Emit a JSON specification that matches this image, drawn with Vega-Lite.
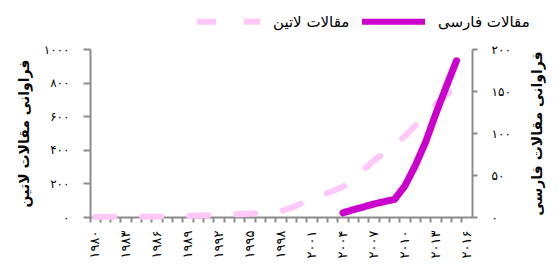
{
  "$schema": "https://vega.github.io/schema/vega-lite/v6.json",
  "width": 382,
  "height": 168,
  "autosize": {"type": "none"},
  "padding": {"left": 90, "top": 49, "right": 86, "bottom": 51},
  "data": {
    "values": [
      {"year": 1980, "series": "مقالات لاتین", "value": 0},
      {"year": 1981, "series": "مقالات لاتین", "value": 1},
      {"year": 1982, "series": "مقالات لاتین", "value": 1},
      {"year": 1983, "series": "مقالات لاتین", "value": 1},
      {"year": 1984, "series": "مقالات لاتین", "value": 2},
      {"year": 1985, "series": "مقالات لاتین", "value": 2},
      {"year": 1986, "series": "مقالات لاتین", "value": 3},
      {"year": 1987, "series": "مقالات لاتین", "value": 4},
      {"year": 1988, "series": "مقالات لاتین", "value": 5},
      {"year": 1989, "series": "مقالات لاتین", "value": 7},
      {"year": 1990, "series": "مقالات لاتین", "value": 9},
      {"year": 1991, "series": "مقالات لاتین", "value": 11},
      {"year": 1992, "series": "مقالات لاتین", "value": 13},
      {"year": 1993, "series": "مقالات لاتین", "value": 15},
      {"year": 1994, "series": "مقالات لاتین", "value": 17},
      {"year": 1995, "series": "مقالات لاتین", "value": 20},
      {"year": 1996, "series": "مقالات لاتین", "value": 24},
      {"year": 1997, "series": "مقالات لاتین", "value": 29},
      {"year": 1998, "series": "مقالات لاتین", "value": 36},
      {"year": 1999, "series": "مقالات لاتین", "value": 55},
      {"year": 2000, "series": "مقالات لاتین", "value": 82},
      {"year": 2001, "series": "مقالات لاتین", "value": 105},
      {"year": 2002, "series": "مقالات لاتین", "value": 131},
      {"year": 2003, "series": "مقالات لاتین", "value": 155},
      {"year": 2004, "series": "مقالات لاتین", "value": 180},
      {"year": 2005, "series": "مقالات لاتین", "value": 229},
      {"year": 2006, "series": "مقالات لاتین", "value": 280},
      {"year": 2007, "series": "مقالات لاتین", "value": 336},
      {"year": 2008, "series": "مقالات لاتین", "value": 380},
      {"year": 2009, "series": "مقالات لاتین", "value": 429},
      {"year": 2010, "series": "مقالات لاتین", "value": 482},
      {"year": 2011, "series": "مقالات لاتین", "value": 542},
      {"year": 2012, "series": "مقالات لاتین", "value": 607},
      {"year": 2013, "series": "مقالات لاتین", "value": 672},
      {"year": 2014, "series": "مقالات لاتین", "value": 726},
      {"year": 2015, "series": "مقالات لاتین", "value": 768},
      {"year": 2004, "series": "مقالات فارسی", "value": 5},
      {"year": 2005, "series": "مقالات فارسی", "value": 8.7},
      {"year": 2006, "series": "مقالات فارسی", "value": 12},
      {"year": 2007, "series": "مقالات فارسی", "value": 15.5},
      {"year": 2008, "series": "مقالات فارسی", "value": 18.3},
      {"year": 2009, "series": "مقالات فارسی", "value": 21},
      {"year": 2010, "series": "مقالات فارسی", "value": 37},
      {"year": 2011, "series": "مقالات فارسی", "value": 61},
      {"year": 2012, "series": "مقالات فارسی", "value": 89},
      {"year": 2013, "series": "مقالات فارسی", "value": 123},
      {"year": 2014, "series": "مقالات فارسی", "value": 155},
      {"year": 2015, "series": "مقالات فارسی", "value": 186}
    ]
  },
  "encoding": {
    "x": {
      "field": "year",
      "type": "ordinal",
      "scale": {
        "type": "band",
        "paddingInner": 0,
        "paddingOuter": 0,
        "domain": [1980,1981,1982,1983,1984,1985,1986,1987,1988,1989,1990,1991,1992,1993,1994,1995,1996,1997,1998,1999,2000,2001,2002,2003,2004,2005,2006,2007,2008,2009,2010,2011,2012,2013,2014,2015,2016]
      },
      "axis": {
        "title": null,
        "bandPosition": 0,
        "labelAngle": -90,
        "labelAlign": "right",
        "labelBaseline": "middle",
        "labelPadding": 8,
        "labelFontSize": 13,
        "tickSize": 5,
        "labelExpr": "(datum.value - 1980) % 3 == 0 ? replace(replace(replace(replace(replace(replace(replace(replace(replace(replace(datum.label, regexp('0','g'), '۰'), regexp('1','g'), '۱'), regexp('2','g'), '۲'), regexp('3','g'), '۳'), regexp('4','g'), '۴'), regexp('5','g'), '۵'), regexp('6','g'), '۶'), regexp('7','g'), '۷'), regexp('8','g'), '۸'), regexp('9','g'), '۹') : ''"
      }
    },
    "color": {
      "field": "series",
      "type": "nominal",
      "scale": {"domain": ["مقالات لاتین", "مقالات فارسی"], "range": ["#FFC8F8", "#CC00CC"]},
      "legend": {
        "title": null,
        "orient": "none",
        "direction": "horizontal",
        "legendX": 104,
        "legendY": -62,
        "symbolType": "stroke",
        "symbolSize": 3969,
        "symbolStrokeWidth": 6,
        "labelFontSize": 15,
        "labelOffset": 10,
        "columnPadding": 0,
        "labelLimit": 200
      }
    },
    "strokeDash": {
      "field": "series",
      "type": "nominal",
      "scale": {"domain": ["مقالات لاتین", "مقالات فارسی"], "range": [[19, 28], [1, 0]]},
      "legend": null
    }
  },
  "layer": [
    {
      "transform": [{"filter": "datum.series == 'مقالات لاتین'"}],
      "mark": {"type": "line", "strokeWidth": 6, "strokeCap": "round", "strokeJoin": "round"},
      "encoding": {
        "y": {
          "field": "value",
          "type": "quantitative",
          "scale": {"domain": [0, 1000]},
          "axis": {
            "orient": "left",
            "title": "فراوانی مقالات لاتین",
            "values": [0, 200, 400, 600, 800, 1000],
            "format": "d",
            "tickSize": 7,
            "labelPadding": 14,
            "titlePadding": 12,
            "labelExpr": "replace(replace(replace(replace(replace(replace(replace(replace(replace(replace(datum.label, regexp('0','g'), '۰'), regexp('1','g'), '۱'), regexp('2','g'), '۲'), regexp('3','g'), '۳'), regexp('4','g'), '۴'), regexp('5','g'), '۵'), regexp('6','g'), '۶'), regexp('7','g'), '۷'), regexp('8','g'), '۸'), regexp('9','g'), '۹')"
          }
        }
      }
    },
    {
      "transform": [{"filter": "datum.series == 'مقالات فارسی'"}],
      "mark": {"type": "line", "strokeWidth": 7, "strokeCap": "round", "strokeJoin": "round"},
      "encoding": {
        "y": {
          "field": "value",
          "type": "quantitative",
          "scale": {"domain": [0, 200]},
          "axis": {
            "orient": "right",
            "title": "فراوانی مقالات فارسی",
            "titleAngle": -90,
            "values": [0, 50, 100, 150, 200],
            "format": "d",
            "tickSize": 5,
            "labelPadding": 14,
            "titlePadding": 34,
            "labelExpr": "replace(replace(replace(replace(replace(replace(replace(replace(replace(replace(datum.label, regexp('0','g'), '۰'), regexp('1','g'), '۱'), regexp('2','g'), '۲'), regexp('3','g'), '۳'), regexp('4','g'), '۴'), regexp('5','g'), '۵'), regexp('6','g'), '۶'), regexp('7','g'), '۷'), regexp('8','g'), '۸'), regexp('9','g'), '۹')"
          }
        }
      }
    }
  ],
  "resolve": {"scale": {"y": "independent"}},
  "config": {
    "view": {"stroke": null},
    "font": "DejaVu Sans",
    "axis": {
      "grid": false,
      "domainColor": "#8c8c8c",
      "domainWidth": 2,
      "tickColor": "#8c8c8c",
      "tickWidth": 2,
      "labelColor": "#000000",
      "labelFontSize": 12,
      "titleFontSize": 14,
      "titleFontWeight": "bold",
      "titleColor": "#000000"
    },
    "legend": {"labelColor": "#000000"}
  }
}
